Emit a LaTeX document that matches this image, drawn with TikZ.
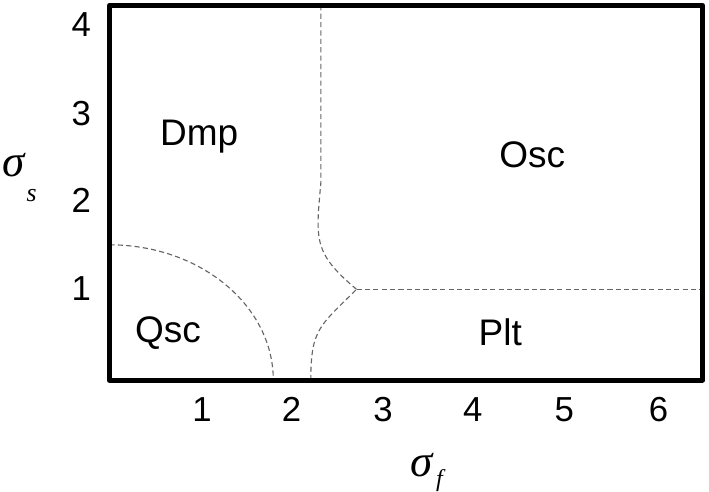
\documentclass[tikz,border=0pt]{standalone}
\usepackage{fontspec}
\setmainfont{Liberation Sans}
\newfontfamily\greekfont{Liberation Serif}
\usetikzlibrary{positioning,calc}

\begin{document}
\begin{tikzpicture}[
    x=1cm, y=0.973cm,
    every node/.style={inner sep=0pt, font=\fontsize{10.8}{12}\selectfont},
    ticklabel/.style={anchor=center},
    phase/.style={anchor=center, font=\fontsize{11.5}{13}\selectfont},
    axislabel/.style={anchor=base west, font=\greekfont\itshape\fontsize{14}{15}\selectfont},
    plotframe/.style={line width=1.55pt, line join=round},
    bound/.style={draw=black!60, line width=0.35pt, dash pattern=on 1.6pt off 1pt}
  ]
  \useasboundingbox (-1.197,-1.247) rectangle (6.552,4.270);
  % corners and boundary points
  \coordinate (origin) at (0,0);
  \coordinate (topright) at (6.48,4.21);
  \coordinate (cusp) at (2.70,1.02);
  \coordinate (qtop) at (0,1.52);
  \coordinate (pfoot) at (2.20,0);
  \coordinate (dknee) at (2.31,2.22);
  \coordinate (dtop) at (2.31,4.21);
  \coordinate (pend) at (6.48,1.02);
  % phase boundaries
  \draw[bound] (qtop) arc[start angle=90, end angle=0, x radius=1.79, y radius=1.52];
  \draw[bound] (pfoot) to[out=90, in=-135, looseness=1.3] (cusp);
  \draw[bound] (dtop) -- (dknee) to[out=-95, in=140, looseness=1.3] (cusp);
  \draw[bound] (cusp) -- (pend);
  % frame
  \draw[plotframe] (origin) rectangle (topright);
  % regions
  \node[phase] (dmp) at (0.98,2.73) {Dmp};
  \node[phase] (osc) at (4.62,2.53) {Osc};
  \node[phase] (qsc) at (0.64,0.53) {Qsc};
  \node[phase] (plt) at (4.27,0.54) {Plt};
  % tick labels
  \node[ticklabel] (x1) at (1.01,-0.33) {1};
  \node[ticklabel] (x2) at (1.99,-0.33) {2};
  \node[ticklabel] (x3) at (2.99,-0.33) {3};
  \node[ticklabel] (x4) at (3.97,-0.33) {4};
  \node[ticklabel] (x5) at (4.97,-0.33) {5};
  \node[ticklabel] (x6) at (6.00,-0.33) {6};
  \node[ticklabel] (y1) at (-0.31,1.03) {1};
  \node[ticklabel] (y2) at (-0.31,2.02) {2};
  \node[ticklabel] (y3) at (-0.31,3.00) {3};
  \node[ticklabel] (y4) at (-0.31,3.99) {4};
  % axis names
  \node[axislabel] (ylab) at (-1.178,2.284) {σ\hspace{0.6pt}\raisebox{-7.8pt}{\fontsize{8}{8}\selectfont s}};
  \node[axislabel] (xlab) at (3.284,-1.087) {σ\hspace{1pt}\raisebox{-3pt}{\fontsize{7.5}{7.5}\selectfont f}};
\end{tikzpicture}
\end{document}
